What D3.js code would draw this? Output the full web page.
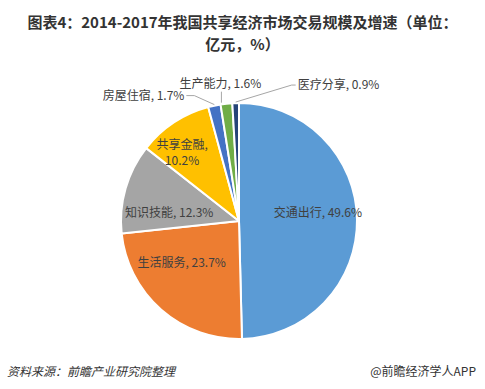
<!DOCTYPE html>
<html>
<head>
<meta charset="utf-8">
<script src="https://cdn.jsdelivr.net/npm/d3@7"></script>
<style>
body{margin:0;background:#fff;}
svg{display:block;font-family:"Noto Sans CJK SC","Noto Sans",sans-serif;}
</style>
</head>
<body>
<div id="chart"></div>
<script>
// data
const categories = ["交通出行","生活服务","知识技能","共享金融","房屋住宿","生产能力","医疗分享"];
const shares = [49.6, 23.7, 12.3, 10.2, 1.7, 1.6, 0.9];
const colors = ["#5B9BD5","#ED7D31","#A5A5A5","#FFC000","#4472C4","#70AD47","#264478"];
const titleLines = ["图表4：2014-2017年我国共享经济市场交易规模及增速（单位：","亿元，%）"];

const width = 485, height = 389;
const cx = 239, cy = 221, R = 118;

const svg = d3.select("#chart").append("svg").attr("width", width).attr("height", height);

/*title*/
svg.selectAll("text.title").data(titleLines).enter().append("text")
  .attr("class","title")
  .attr("x", width/2).attr("y",(d,i)=>28+i*22)
  .attr("text-anchor","middle")
  .style("font-size","15px").style("font-weight","bold").attr("fill","#333")
  .text(d=>d);

/*pie*/
const pie = d3.pie().sort(null).value(d=>d);
const arcs = pie(shares);
const arc = d3.arc().innerRadius(0).outerRadius(R);
const g = svg.append("g").attr("transform","translate("+cx+","+cy+")");

g.selectAll("path").data(arcs).enter().append("path")
  .attr("d", arc)
  .attr("fill",(d,i)=>colors[i])
  .attr("stroke","#fff").attr("stroke-width",2).attr("stroke-linejoin","round");

// inside labels
const labelArc = d3.arc().innerRadius(R*0.66).outerRadius(R*0.66);
const inside = arcs.filter(d=>d.value>5);
const nudge = {"交通出行":[1,-7],"生活服务":[-6,-17],"知识技能":[5,13],"共享金融":[-14,0]};
inside.forEach((d)=>{
  const i = d.index, name = categories[i];
  const c = labelArc.centroid(d);
  const n = nudge[name] || [0,0];
  if(name==="共享金融"){
    // two lines, drawn as two texts
    [name+",", shares[i].toFixed(1)+"%"].forEach((s,k)=>{
      g.append("text").attr("text-anchor","middle")
        .attr("fill","#404040").style("font-size","12px")
        .attr("x",c[0]+n[0]).attr("y",c[1]+n[1]-7+k*16).text(s);
    });
  } else {
    g.append("text").attr("text-anchor","middle")
      .attr("fill","#404040").style("font-size","12px")
      .attr("x",c[0]+n[0]).attr("y",c[1]+n[1]+4).text(name+", "+shares[i].toFixed(1)+"%");
  }
});

// outside labels with leader lines
const edge = d3.arc().innerRadius(R).outerRadius(R);
const outside = arcs.filter(d=>d.value<=5);
const outerLayout = {
  "房屋住宿":{elbow:[-20,-10],text:[-30,-10],anchor:"end"},
  "生产能力":{elbow:[-5,-12],text:[-6,-20],anchor:"middle"},
  "医疗分享":{elbow:[56,-18],text:[62,-18],anchor:"start"}
};
outside.forEach(d=>{
  const i = d.index, name = categories[i];
  const p = edge.centroid(d);
  const L = outerLayout[name];
  const e = [p[0]+L.elbow[0], p[1]+L.elbow[1]];
  const line = name==="生产能力" ? [[e[0],p[1]-1],[e[0],e[1]]]
    : [[p[0],p[1]-1],[e[0],e[1]],[p[0]+L.text[0]+(L.anchor==="end"?2:-2),e[1]]];
  g.append("path").attr("d", d3.line()(line))
    .attr("fill","none").attr("stroke","#a6a6a6").attr("stroke-width",1);
  g.append("text").attr("x",p[0]+L.text[0]).attr("y",p[1]+L.text[1]+4)
    .attr("text-anchor",L.anchor).attr("fill","#404040").style("font-size","12px")
    .text(name+", "+shares[i].toFixed(1)+"%");
});

/*footer*/
svg.append("text").attr("x",7).attr("y",376)
  .style("font-size","12px").style("font-style","italic").attr("fill","#333")
  .text("资料来源：前瞻产业研究院整理");
svg.append("text").attr("x",476).attr("y",376).attr("text-anchor","end")
  .style("font-size","12px").attr("fill","#333")
  .text("@前瞻经济学人APP");
</script>
</body>
</html>
